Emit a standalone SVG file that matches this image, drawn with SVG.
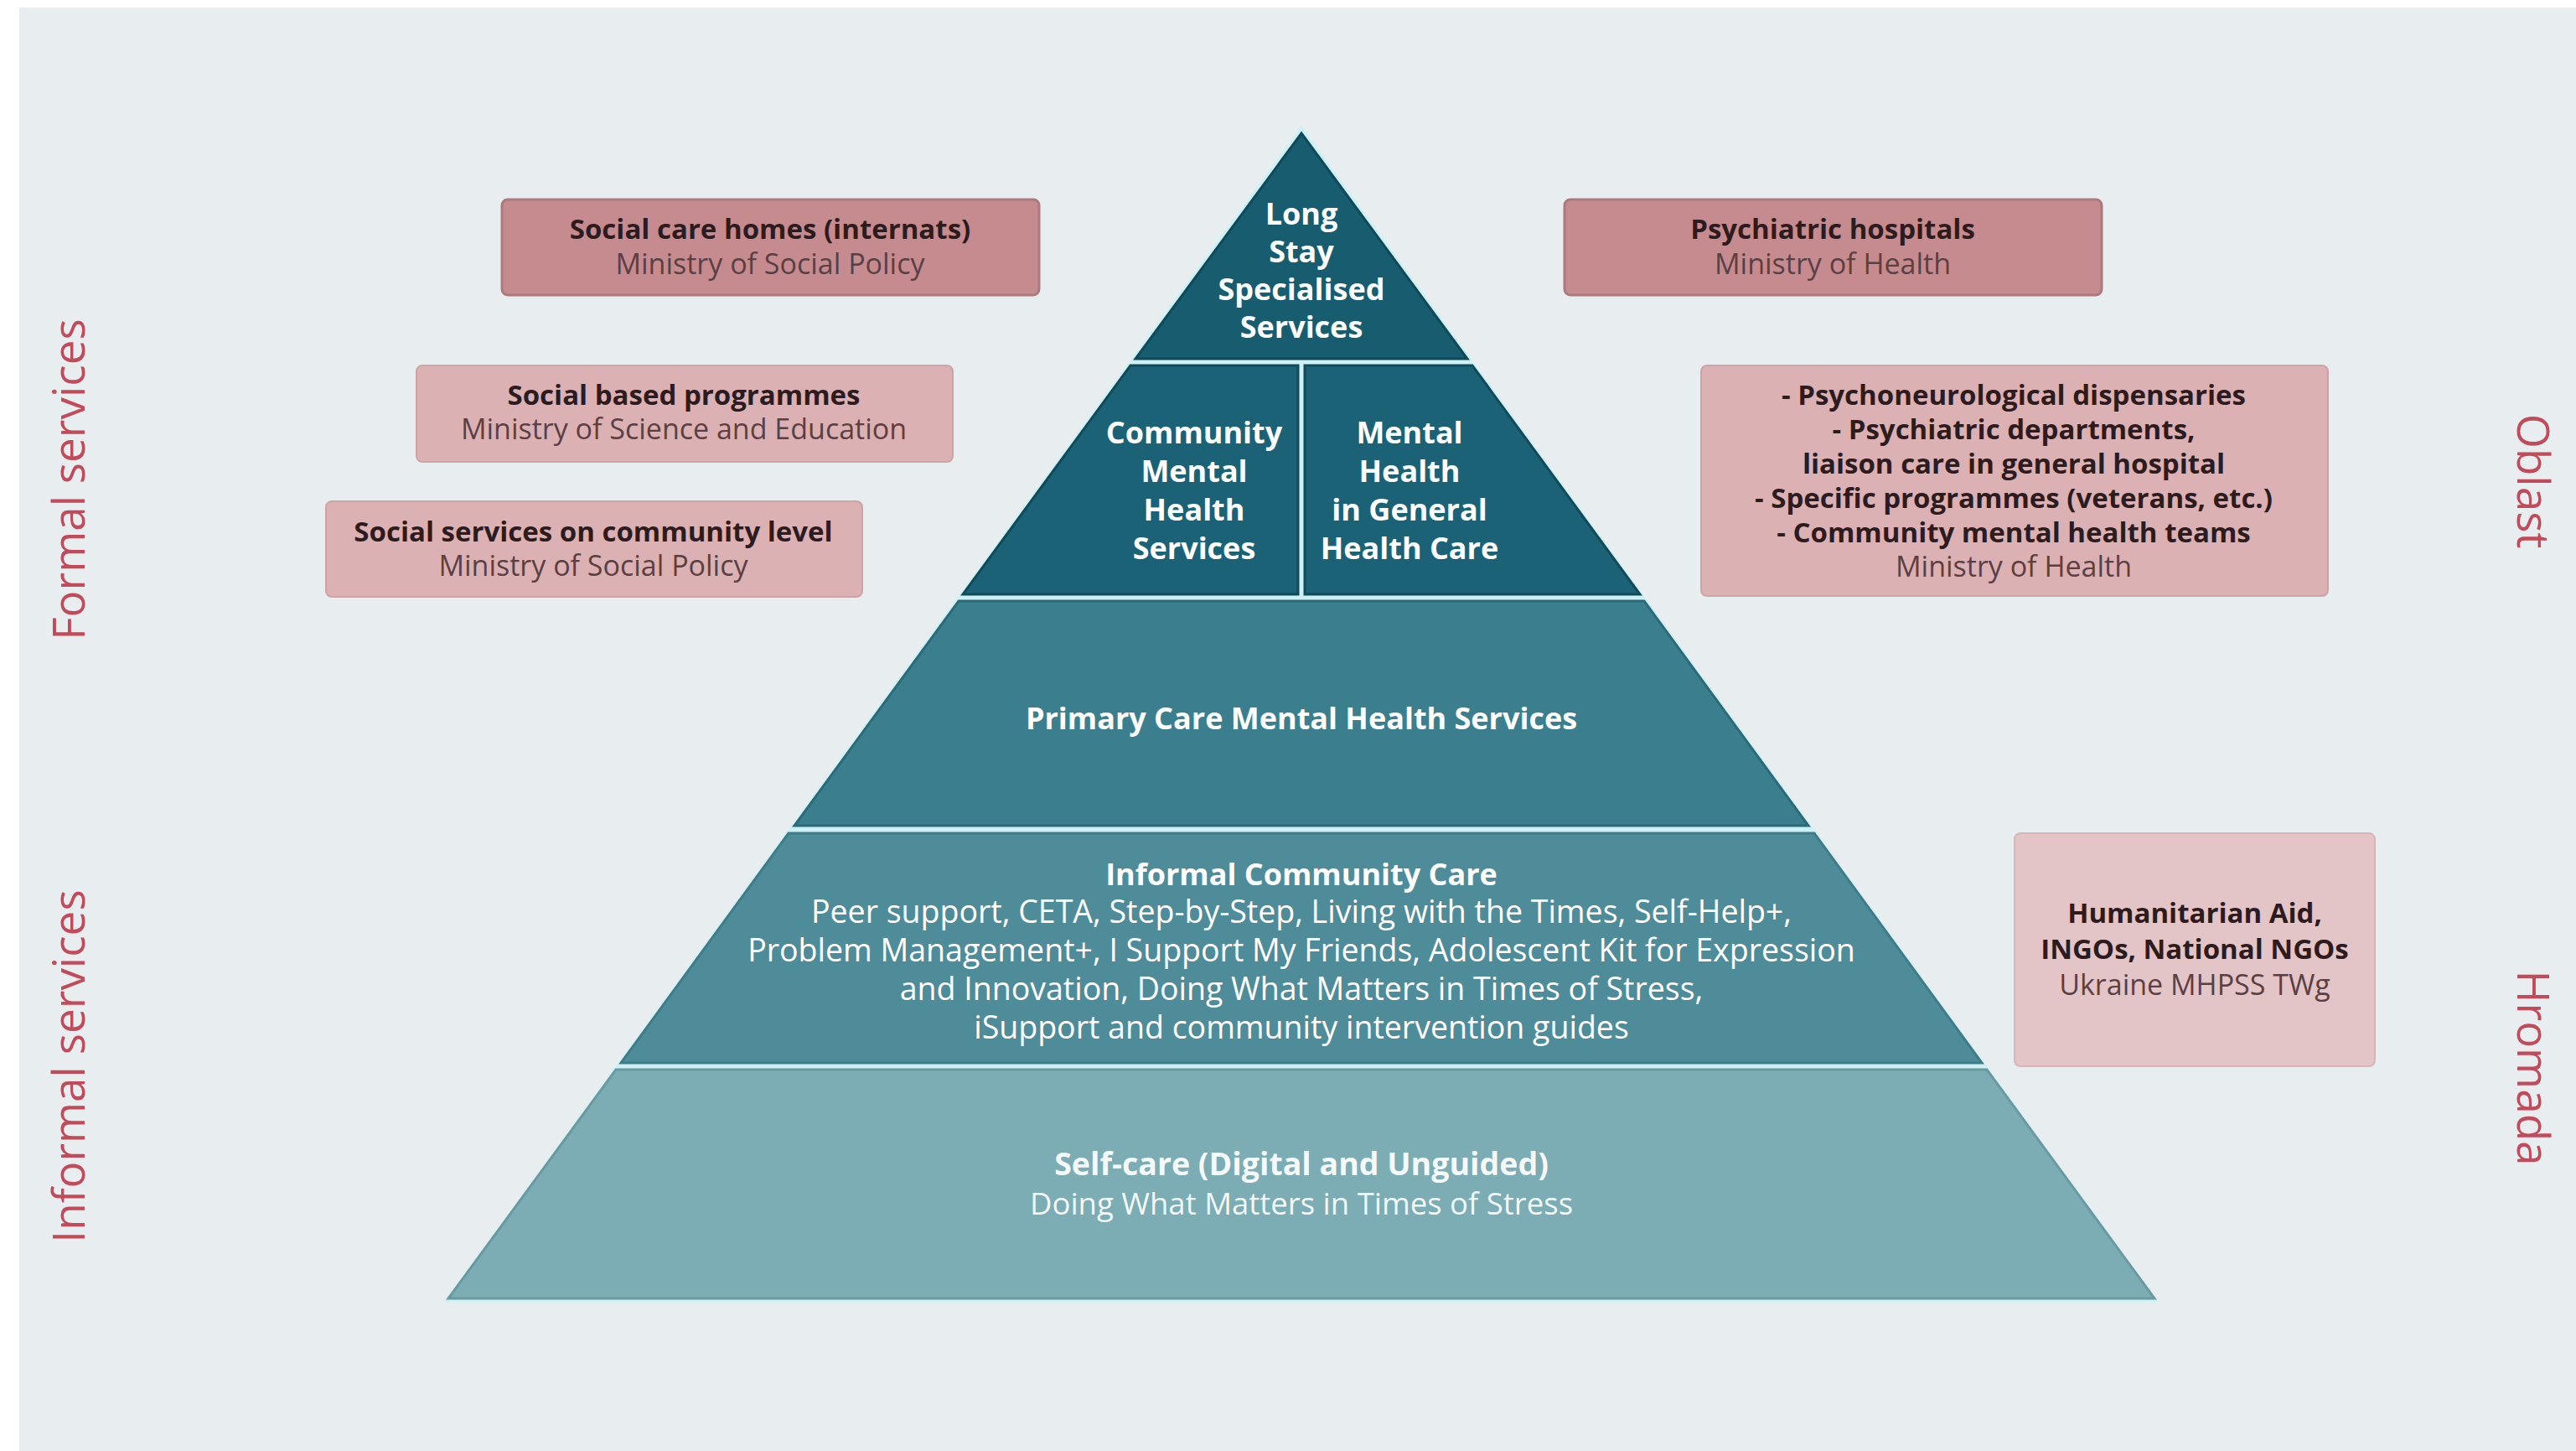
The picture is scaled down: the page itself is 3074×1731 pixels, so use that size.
<svg xmlns="http://www.w3.org/2000/svg" width="3074" height="1731" viewBox="0 0 3074 1731">
  <style>
    .bg { fill: #E8EEEF; }
    .side { font-family: "Open Sans", "Noto Sans", sans-serif; font-size: 53px; fill: #C24B5B; text-anchor: middle; }
    .tier-text { font-family: "Open Sans", "Noto Sans", sans-serif; fill: #FFFFFF; text-anchor: middle; }
    .t-bold { font-weight: 700; font-size: 36px; }
    .t-reg { font-weight: 400; font-size: 37.5px; }
    .box-text { font-family: "Open Sans", "Noto Sans", sans-serif; text-anchor: middle; font-size: 33px; }
    .b-head { font-weight: 700; fill: #2E1B1E; }
    .b-sub { font-weight: 400; fill: #5B3F43; font-size: 34px; }
    .box-strong { fill: #C68B8F; stroke: #A97A7E; stroke-width: 3; }
    .box-mid { fill: #DBB1B4; stroke: #CDA3A6; stroke-width: 2; }
    .box-light { fill: #E3C4C7; stroke: #D6B6B9; stroke-width: 2; }
  </style>

  <!-- page background -->
  <rect x="0" y="0" width="3074" height="1731" fill="#FFFFFF"/>
  <rect class="bg" x="23" y="9" width="3051" height="1722"/>

  <!-- side captions -->
  <g id="label-formal"><text class="side" transform="translate(101 572) rotate(-90)">Formal services</text></g>
  <g id="label-informal"><text class="side" transform="translate(101 1272) rotate(-90)">Informal services</text></g>
  <g id="label-oblast"><text class="side" transform="translate(3004 574) rotate(90)">Oblast</text></g>
  <g id="label-hromada"><text class="side" transform="translate(3004 1274) rotate(90)">Hromada</text></g>

  <!-- light halo behind the pyramid, shows through the gaps between tiers -->
  <polygon points="1553,150 2576,1553 530,1553" fill="#CFF1F5"/>

  <!-- pyramid tiers -->
  <g id="tier-long-stay">
    <polygon points="1553,159 1751,428 1355,428" fill="#175C6F" stroke="#0F4A5A" stroke-width="3"/>
    <text class="tier-text t-bold" x="1553" y="268">Long</text>
    <text class="tier-text t-bold" x="1553" y="313">Stay</text>
    <text class="tier-text t-bold" x="1553" y="358">Specialised</text>
    <text class="tier-text t-bold" x="1553" y="403">Services</text>
  </g>

  <g id="tier-community">
    <polygon points="1349,436 1549,436 1549,709 1149,709" fill="#1B6276" stroke="#104B5B" stroke-width="3"/>
    <text class="tier-text t-bold" x="1425" y="529">Community</text>
    <text class="tier-text t-bold" x="1425" y="575">Mental</text>
    <text class="tier-text t-bold" x="1425" y="621">Health</text>
    <text class="tier-text t-bold" x="1425" y="667">Services</text>
  </g>

  <g id="tier-general">
    <polygon points="1557,436 1757,436 1957,709 1557,709" fill="#1B6276" stroke="#104B5B" stroke-width="3"/>
    <text class="tier-text t-bold" x="1682" y="529">Mental</text>
    <text class="tier-text t-bold" x="1682" y="575">Health</text>
    <text class="tier-text t-bold" x="1682" y="621">in General</text>
    <text class="tier-text t-bold" x="1682" y="667">Health Care</text>
  </g>

  <g id="tier-primary">
    <polygon points="1144,717 1962,717 2158,985 948,985" fill="#3B7F8E" stroke="#2B6A79" stroke-width="3"/>
    <text class="tier-text t-bold" x="1553" y="870">Primary Care Mental Health Services</text>
  </g>

  <g id="tier-informal">
    <polygon points="941,994 2165,994 2365,1268 741,1268" fill="#4F8C9A" stroke="#3F7B88" stroke-width="3"/>
    <text class="tier-text t-bold" x="1553" y="1056">Informal Community Care</text>
    <text class="tier-text t-reg" x="1553" y="1101">Peer support, CETA, Step-by-Step, Living with the Times, Self-Help+,</text>
    <text class="tier-text t-reg" x="1553" y="1147">Problem Management+, I Support My Friends, Adolescent Kit for Expression</text>
    <text class="tier-text t-reg" x="1553" y="1193">and Innovation, Doing What Matters in Times of Stress,</text>
    <text class="tier-text t-reg" x="1553" y="1239">iSupport and community intervention guides</text>
  </g>

  <g id="tier-self-care">
    <polygon points="735,1276 2371,1276 2571,1549 535,1549" fill="#7CADB4" stroke="#6A9AA1" stroke-width="3"/>
    <text class="tier-text t-bold" x="1553" y="1402" style="font-size:37.5px" fill-opacity="0.95">Self-care (Digital and Unguided)</text>
    <text class="tier-text t-reg" x="1553" y="1449" style="font-size:36.5px" fill-opacity="0.92">Doing What Matters in Times of Stress</text>
  </g>

  <!-- ministry boxes, left -->
  <g id="box-social-care-homes">
    <rect class="box-strong" x="599" y="238" width="641" height="114" rx="7"/>
    <text class="box-text b-head" x="919" y="285">Social care homes (internats)</text>
    <text class="box-text b-sub" x="919" y="327">Ministry of Social Policy</text>
  </g>

  <g id="box-social-programmes">
    <rect class="box-mid" x="497" y="436" width="640" height="115" rx="7"/>
    <text class="box-text b-head" x="816" y="483">Social based programmes</text>
    <text class="box-text b-sub" x="816" y="524">Ministry of Science and Education</text>
  </g>

  <g id="box-social-services">
    <rect class="box-mid" x="389" y="598" width="640" height="114" rx="7"/>
    <text class="box-text b-head" x="708" y="646">Social services on community level</text>
    <text class="box-text b-sub" x="708" y="687">Ministry of Social Policy</text>
  </g>

  <!-- ministry boxes, right -->
  <g id="box-psychiatric-hospitals">
    <rect class="box-strong" x="1867" y="238" width="641" height="114" rx="7"/>
    <text class="box-text b-head" x="2187" y="285">Psychiatric hospitals</text>
    <text class="box-text b-sub" x="2187" y="327">Ministry of Health</text>
  </g>

  <g id="box-health-services">
    <rect class="box-mid" x="2030" y="436" width="748" height="275" rx="7"/>
    <text class="box-text b-head" x="2403" y="483">- Psychoneurological dispensaries</text>
    <text class="box-text b-head" x="2403" y="524">- Psychiatric departments,</text>
    <text class="box-text b-head" x="2403" y="565">liaison care in general hospital</text>
    <text class="box-text b-head" x="2403" y="606">- Specific programmes (veterans, etc.)</text>
    <text class="box-text b-head" x="2403" y="647">- Community mental health teams</text>
    <text class="box-text b-sub" x="2403" y="688">Ministry of Health</text>
  </g>

  <g id="box-humanitarian">
    <rect class="box-light" x="2404" y="994" width="430" height="278" rx="7"/>
    <text class="box-text b-head" x="2619" y="1101">Humanitarian Aid,</text>
    <text class="box-text b-head" x="2619" y="1144">INGOs, National NGOs</text>
    <text class="box-text b-sub" x="2619" y="1187">Ukraine MHPSS TWg</text>
  </g>
</svg>
